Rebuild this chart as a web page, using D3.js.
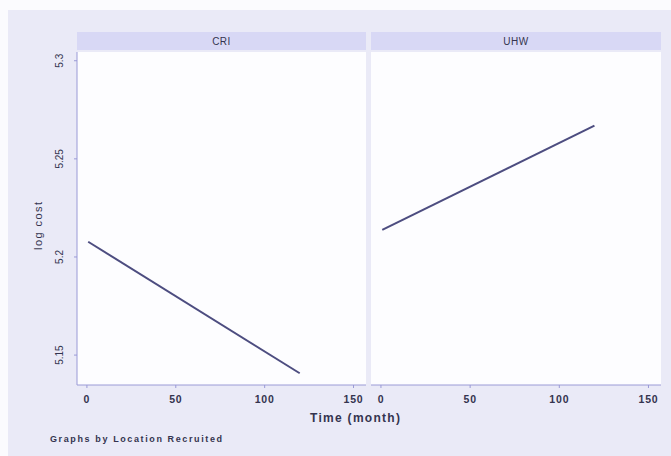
<!DOCTYPE html>
<html><head><meta charset="utf-8">
<script src="https://cdn.jsdelivr.net/npm/d3@7"></script>
<style>body{margin:0;background:#fbfbfe}svg{display:block;font-family:"Liberation Sans",Arial,sans-serif}</style>
</head><body>
<svg id="c" width="671" height="456"></svg>
<script>
const panels = ["CRI", "UHW"];
const timeCRI = [1, 120];
const costCRI = [5.2075, 5.1405];
const timeUHW = [1, 120];
const costUHW = [5.2136, 5.2667];
const xTicks = [0, 50, 100, 150];
const yTicks = [5.15, 5.2, 5.25, 5.3];
const yLabels = ["5.15", "5.2", "5.25", "5.3"];
const series = [
  {name: panels[0], t: timeCRI, v: costCRI},
  {name: panels[1], t: timeUHW, v: costUHW}
];

(function () {
const svg = d3.select("#c");
const ff = "Liberation Sans, Arial, sans-serif";
const txt = "#34344f";
svg.append("rect").attr("x", 8).attr("y", 10).attr("width", 663).attr("height", 446).attr("fill", "#eaeaf7");

const plotTop = 52, plotBottom = 385;
const panelX = [[77, 366], [371, 661]];
const y = d3.scaleLinear().domain([5.1345, 5.3042]).range([plotBottom, plotTop]);
const lineCol = "#4d4d80", axisCol = "#9a9ad6";

series.forEach((s, i) => {
  const [x0, x1] = panelX[i];
  const x = d3.scaleLinear().domain([-5.3, 157.3]).range([x0, x1]);
  const g = svg.append("g");
  g.append("rect").attr("x", x0).attr("y", 32).attr("width", x1 - x0).attr("height", 18).attr("fill", "#d8d8f5");
  g.append("text").attr("x", (x0 + x1) / 2).attr("y", 45).attr("text-anchor", "middle")
    .attr("font-size", 10).attr("letter-spacing", 0.5).attr("fill", txt).text(s.name);
  g.append("rect").attr("x", x0).attr("y", plotTop).attr("width", x1 - x0).attr("height", plotBottom - plotTop).attr("fill", "#fdfdff");
  const xa = g.append("g").attr("transform", `translate(0,${plotBottom})`)
    .call(d3.axisBottom(x).tickValues(xTicks).tickSize(3).tickPadding(8).tickFormat(d3.format("d")));
  xa.select(".domain").attr("stroke", axisCol).attr("d", `M${x0},0H${x1}`);
  xa.selectAll(".tick line").attr("stroke", axisCol);
  xa.selectAll(".tick text").attr("font-size", 10.5).attr("font-weight", "bold").attr("letter-spacing", 0.8)
    .attr("fill", txt).attr("font-family", ff);
  if (i === 0) {
    const ya = g.append("g").attr("transform", `translate(${x0},0)`)
      .call(d3.axisLeft(y).tickValues(yTicks).tickSize(3).tickFormat((d, k) => yLabels[k]));
    ya.select(".domain").attr("stroke", axisCol).attr("d", `M0,${plotTop}V${plotBottom}`);
    ya.selectAll(".tick line").attr("stroke", axisCol);
    ya.selectAll(".tick text").attr("font-size", 10).attr("fill", txt)
      .attr("font-family", ff)
      .attr("text-anchor", "middle").attr("transform", "translate(-18,0) rotate(-90)").attr("x", 0).attr("dy", "0.35em");
  }
  const line = d3.line().x((d, k) => x(s.t[k])).y(d => y(d));
  g.append("path").datum(s.v).attr("d", line).attr("fill", "none").attr("stroke", lineCol).attr("stroke-width", 2);
});

svg.append("text").attr("transform", "translate(38,226) rotate(-90)").attr("text-anchor", "middle").attr("dy", "0.35em")
  .attr("font-size", 11).attr("textLength", 48).attr("fill", txt).text("log cost");
svg.append("text").attr("x", 310).attr("y", 422).attr("font-size", 12).attr("font-weight", "bold")
  .attr("textLength", 90).attr("fill", txt).text("Time (month)");
svg.append("text").attr("x", 50).attr("y", 442).attr("font-size", 9).attr("font-weight", "bold").attr("textLength", 172)
  .attr("fill", txt).text("Graphs by Location Recruited");
})();
</script>
</body></html>
